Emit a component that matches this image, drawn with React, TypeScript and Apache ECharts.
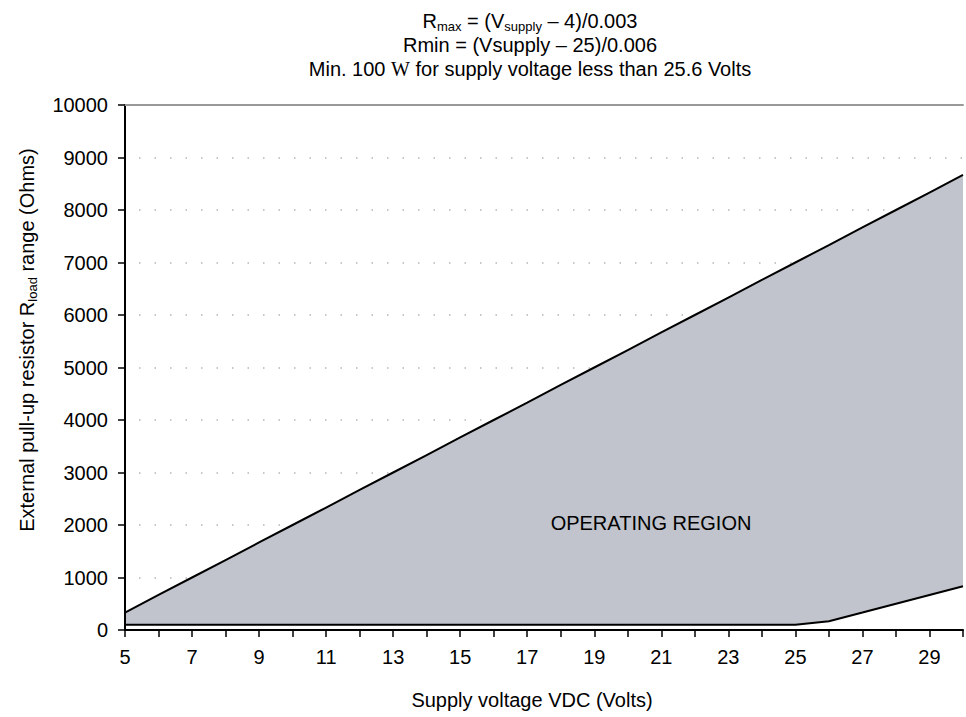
import React, { useEffect, useRef } from 'react';
import * as echarts from 'echarts';

// Supply voltage (V) at each integer step
const voltages = [5, 6, 7, 8, 9, 10, 11, 12, 13, 14, 15, 16, 17, 18, 19, 20, 21, 22, 23, 24, 25, 26, 27, 28, 29, 30];
// Upper limit Rmax (Ohms)
const rMax = [333, 667, 1000, 1333, 1667, 2000, 2333, 2667, 3000, 3333, 3667, 4000, 4333, 4667, 5000, 5333, 5667, 6000, 6333, 6667, 7000, 7333, 7667, 8000, 8333, 8667];
// Lower limit Rmin (Ohms)
const rMin = [100, 100, 100, 100, 100, 100, 100, 100, 100, 100, 100, 100, 100, 100, 100, 100, 100, 100, 100, 100, 100, 167, 333, 500, 667, 833];
// Labelled x ticks
const xTickLabels = [5, 7, 9, 11, 13, 15, 17, 19, 21, 23, 25, 27, 29];

const FONT = '"Liberation Sans", Arial, sans-serif';
const SERIF = '"Liberation Serif", "DejaVu Serif", serif';

export default function App() {
  const ref = useRef<HTMLDivElement>(null);

  useEffect(() => {
    if (!ref.current) return;
    const chart = echarts.init(ref.current, null, { renderer: 'svg' });

    const rich = {
      n: { fontSize: 20, fontFamily: FONT, color: '#000', lineHeight: 24 },
      s: { fontSize: 13, fontFamily: FONT, color: '#000', lineHeight: 24, verticalAlign: 'bottom' as const },
      w: { fontSize: 20, fontFamily: SERIF, color: '#000', lineHeight: 24 },
    };

    const yBase = { type: 'value' as const, min: 0, max: 10000, interval: 1000, position: 'left' as const };

    const option: echarts.EChartsOption = {
      animation: false,
      backgroundColor: '#fff',
      grid: { left: 125, right: -3, top: 105, bottom: 87, containLabel: false },
      xAxis: [
        {
          type: 'value',
          min: 5,
          max: 30,
          interval: 1,
          z: 10,
          axisLine: { onZero: false, lineStyle: { color: '#000', width: 2 } },
          axisTick: { length: 7, lineStyle: { color: '#000', width: 1.5 } },
          axisLabel: {
            formatter: (v: number) => (xTickLabels.includes(v) ? String(v) : ''),
            fontSize: 20,
            fontFamily: FONT,
            color: '#000',
            margin: 17,
          },
          splitLine: { show: false },
        },
        {
          type: 'value',
          position: 'top',
          min: 5,
          max: 30,
          interval: 1,
          z: 10,
          axisLine: { show: true, onZero: false, lineStyle: { color: '#999', width: 2 } },
          axisTick: { show: false },
          axisLabel: { show: false },
          splitLine: { show: false },
        },
      ],
      yAxis: [
        {
          ...yBase,
          z: 0,
          axisLine: { show: false },
          axisTick: { show: false },
          axisLabel: { show: false },
          splitLine: { show: true, lineStyle: { color: '#b5b5b5', width: 1.5, type: [1.5, 14], dashOffset: -14 } },
        },
        {
          ...yBase,
          z: 10,
          axisLine: { show: true, onZero: false, lineStyle: { color: '#000', width: 2 } },
          axisTick: { show: true, length: 7, lineStyle: { color: '#000', width: 1.5 } },
          axisLabel: { fontSize: 20, fontFamily: FONT, color: '#000', margin: 17, formatter: (v: number) => String(v) },
          splitLine: { show: false },
        },
      ],
      series: [
        {
          type: 'line',
          name: 'Rmax',
          symbol: 'none',
          xAxisIndex: 0,
          yAxisIndex: 0,
          data: voltages.map((v, i) => [v, rMax[i]]),
          lineStyle: { color: '#000', width: 2 },
          areaStyle: { color: '#c1c4cc', opacity: 1 },
          z: 2,
        },
        {
          type: 'line',
          name: 'Rmin',
          symbol: 'none',
          xAxisIndex: 0,
          yAxisIndex: 0,
          data: voltages.map((v, i) => [v, rMin[i]]),
          lineStyle: { color: '#000', width: 2 },
          areaStyle: { color: '#ffffff', opacity: 1 },
          z: 3,
        },
      ],
      graphic: [
        {
          type: 'text',
          x: 530,
          y: 21,
          style: {
            text: '{n|R}{s|max}{n| = (V}{s|supply}{n| – 4)/0.003}',
            rich,
            align: 'center',
            verticalAlign: 'middle',
          },
        },
        {
          type: 'text',
          x: 530,
          y: 45,
          style: {
            text: '{n|Rmin = (Vsupply – 25)/0.006}',
            rich,
            align: 'center',
            verticalAlign: 'middle',
          },
        },
        {
          type: 'text',
          x: 530,
          y: 69,
          style: {
            text: '{n|Min. 100 }{w|W}{n| for supply voltage less than 25.6 Volts}',
            rich,
            align: 'center',
            verticalAlign: 'middle',
          },
        },
        {
          type: 'text',
          x: 651,
          y: 523,
          z: 10,
          style: {
            text: 'OPERATING REGION',
            fontSize: 20,
            fontFamily: FONT,
            fill: '#000',
            align: 'center',
            verticalAlign: 'middle',
          },
        },
        {
          type: 'text',
          x: 532,
          y: 700,
          style: {
            text: 'Supply voltage VDC (Volts)',
            fontSize: 20,
            fontFamily: FONT,
            fill: '#000',
            align: 'center',
            verticalAlign: 'middle',
          },
        },
        {
          type: 'text',
          x: 27,
          y: 340,
          rotation: Math.PI / 2,
          style: {
            text: '{n|External pull-up resistor R}{s|load}{n| range (Ohms)}',
            rich,
            align: 'center',
            verticalAlign: 'middle',
          },
        },
      ],
    };

    chart.setOption(option);
    return () => chart.dispose();
  }, []);

  return <div ref={ref} style={{ position: 'fixed', left: 0, top: 0, width: 966, height: 717 }} />;
}
